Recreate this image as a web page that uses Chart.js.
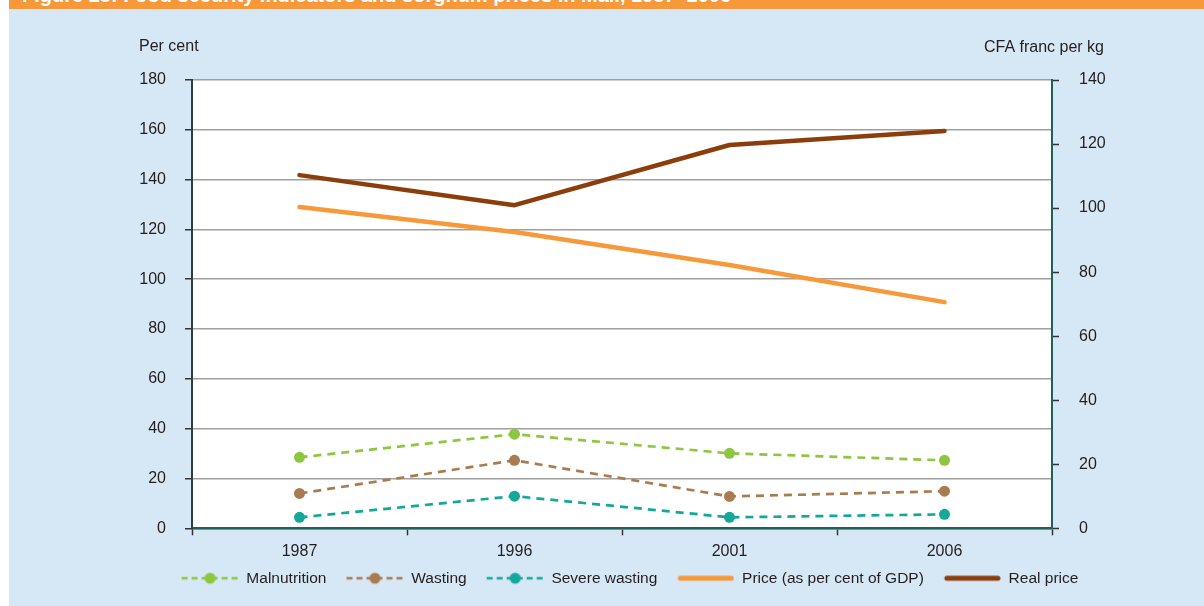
<!DOCTYPE html>
<html>
<head>
<meta charset="utf-8">
<script src="https://cdn.jsdelivr.net/npm/chart.js@4.4.1/dist/chart.umd.min.js"></script>
<style>
  html, body { margin: 0; padding: 0; background: #ffffff; }
  #wrap { position: absolute; left: 0; top: 0; width: 1204px; height: 606px; overflow: hidden; }
  #bg { position: absolute; left: 9px; top: 0; width: 1195px; height: 606px; background: #d6e7f5; }
  #banner { position: absolute; left: 9px; top: 0; width: 1195px; height: 9px; background: #f7993a; overflow: hidden; }
  #banner span { position: absolute; left: 13px; top: -16px; color: #ffffff; font: bold 20px "Liberation Sans Narrow", "Liberation Sans", sans-serif; white-space: nowrap; }
  #c { position: absolute; left: 0; top: 0; }
</style>
</head>
<body>
<div id="wrap">
  <div id="bg"></div>
  <div id="banner"><span>Figure 28: Food security indicators and sorghum prices in Mali, 1987–2006</span></div>
  <canvas id="c" width="1204" height="606"></canvas>
</div>
<script>
// ---- Data ----
const years = ['1987', '1996', '2001', '2006'];
const malnutrition = [28.5, 37.8, 30.1, 27.3];
const wasting = [14.0, 27.3, 12.8, 14.9];
const severeWasting = [4.4, 12.9, 4.4, 5.6];
const priceGdp = [129.0, 119.0, 105.7, 90.8];     // per cent (left axis)
const realPrice = [110.3, 100.9, 119.7, 124.1];   // CFA franc per kg (right axis)
const leftTitle = 'Per cent';
const rightTitle = 'CFA franc per kg';

const FONT = '"Liberation Sans Narrow", "Liberation Sans", sans-serif';
const TXT = '#231f20';
const AXIS = '#24605b';
const LEG_PAD = 8;      // symbol-to-text spacing
const LEG_GAP = 12;     // extra space before each legend symbol
const SYM_W = 57;
const LEG_SHIFT = 6;    // move legend up a little

function legendImage(color, dashed) {
  const w = SYM_W + LEG_GAP, h = 14;
  const cv = document.createElement('canvas');
  cv.width = w; cv.height = h;
  const g = cv.getContext('2d');
  g.strokeStyle = color;
  const x0 = LEG_GAP;
  if (dashed) {
    g.lineWidth = 2.5;
    g.setLineDash([6, 4]);
    g.beginPath(); g.moveTo(x0, h / 2); g.lineTo(w, h / 2); g.stroke();
    g.setLineDash([]);
    g.fillStyle = color;
    g.beginPath(); g.arc(x0 + SYM_W / 2, h / 2, 5.5, 0, Math.PI * 2); g.fill();
  } else {
    g.lineWidth = 5;
    g.lineCap = 'round';
    g.beginPath(); g.moveTo(x0 + 3, h / 2); g.lineTo(w - 3, h / 2); g.stroke();
  }
  return cv;
}

const dashedLine = (label, data, color) => ({
  label, data, yAxisID: 'y',
  borderColor: color, backgroundColor: color,
  borderWidth: 2.7, borderDash: [8, 6],
  pointRadius: 5.5, pointHoverRadius: 5.5, pointBackgroundColor: color, pointBorderWidth: 0,
  tension: 0, fill: false, _dashed: true
});
const solidLine = (label, data, color, axis) => ({
  label, data, yAxisID: axis,
  borderColor: color, backgroundColor: color,
  borderWidth: 4.5, borderCapStyle: 'round', borderJoinStyle: 'round',
  pointRadius: 0, tension: 0, fill: false, _dashed: false
});

const datasets = [
  dashedLine('Malnutrition', malnutrition, '#8dc63f'),
  dashedLine('Wasting', wasting, '#a97c50'),
  dashedLine('Severe wasting', severeWasting, '#14a89c'),
  solidLine('Price (as per cent of GDP)', priceGdp, '#f7993a', 'y'),
  solidLine('Real price', realPrice, '#8b3d0c', 'y1')
];

const axisTitles = {
  id: 'axisTitles',
  afterDraw(chart) {
    const {ctx, chartArea} = chart;
    ctx.save();
    ctx.fillStyle = TXT;
    ctx.textBaseline = 'middle';
    ctx.font = '16px ' + FONT;
    ctx.textAlign = 'left';
    ctx.fillText(leftTitle, chartArea.left - 53, chartArea.top - 33);
    ctx.textAlign = 'right';
    ctx.fillText(rightTitle, chartArea.right + 52, chartArea.top - 32);
    ctx.restore();
  }
};

const plotBg = {
  id: 'plotBg',
  afterLayout(chart) {
    if (chart.legend) {
      chart.legend.top -= LEG_SHIFT;
      chart.legend.bottom -= LEG_SHIFT;
    }
  },
  beforeDraw(chart) {
    const {ctx, chartArea} = chart;
    ctx.save();
    ctx.fillStyle = '#ffffff';
    ctx.fillRect(chartArea.left, chartArea.top, chartArea.right - chartArea.left, chartArea.bottom - chartArea.top);
    ctx.restore();
  }
};

new Chart(document.getElementById('c'), {
  type: 'line',
  data: { labels: years, datasets },
  plugins: [plotBg, axisTitles],
  options: {
    responsive: false,
    animation: false,
    events: [],
    layout: { padding: { left: 44, right: 0, top: 80, bottom: 4 } },
    plugins: {
      title: { display: false },
      tooltip: { enabled: false },
      legend: {
        display: true,
        position: 'bottom',
        align: 'center',
        labels: {
          usePointStyle: true,
          pointStyleWidth: SYM_W + LEG_GAP,
          padding: LEG_PAD,
          color: TXT,
          font: { family: FONT, size: 15.5 },
          generateLabels: (chart) => chart.data.datasets.map((ds, i) => ({
            text: ds.label,
            pointStyle: legendImage(ds.borderColor, ds._dashed),
            fillStyle: ds.borderColor,
            strokeStyle: 'transparent',
            lineWidth: 0,
            hidden: false,
            datasetIndex: i,
            fontColor: TXT
          }))
        }
      }
    },
    scales: {
      x: {
        type: 'category',
        offset: true,
        grid: { display: true, drawOnChartArea: false, offset: true, drawTicks: true, tickLength: 7, tickColor: '#333333', tickWidth: 1.5 },
        border: { display: true, color: AXIS, width: 2.5 },
        ticks: { color: TXT, font: { family: FONT, size: 16 }, padding: 7 }
      },
      y: {
        position: 'left',
        min: 0, max: 180,
        ticks: { stepSize: 20, color: TXT, font: { family: FONT, size: 16 }, padding: 19 },
        grid: { color: '#a0a0a0', lineWidth: 1.5, drawTicks: true, tickLength: 7, tickColor: '#333333', tickWidth: 1.5 },
        border: { display: true, color: '#2d3e3c', width: 2 },
        afterFit: (s) => { s.width = 148; }
      },
      y1: {
        position: 'right',
        min: 0, max: 140,
        ticks: { stepSize: 20, color: TXT, font: { family: FONT, size: 16 }, padding: 20 },
        grid: { drawOnChartArea: false, drawTicks: true, tickLength: 7, tickColor: '#333333', tickWidth: 1.5 },
        border: { display: true, color: AXIS, width: 2 },
        afterFit: (s) => { s.width = 152; }
      }
    }
  }
});
</script>
</body>
</html>
